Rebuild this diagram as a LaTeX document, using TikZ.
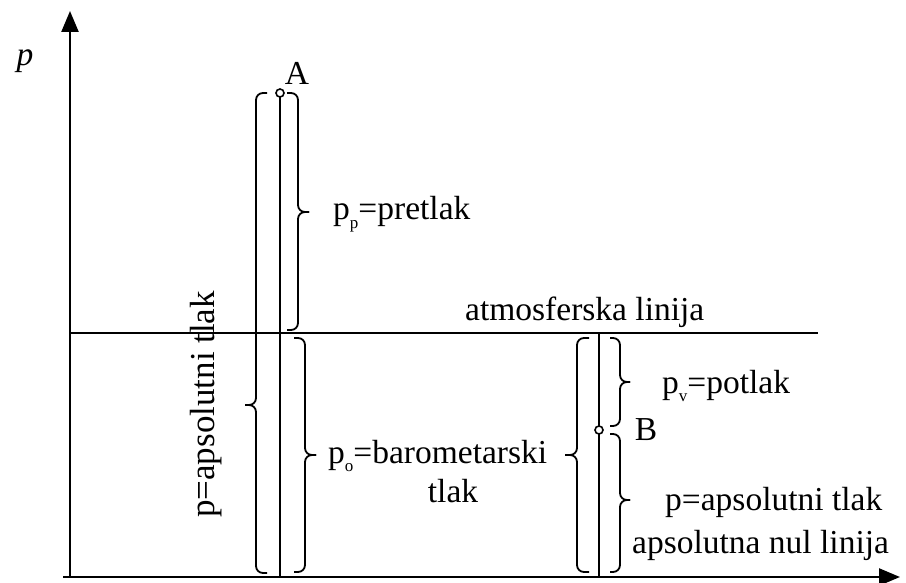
\documentclass[tikz,border=0pt]{standalone}
\usepackage{fontspec}
\setmainfont{Liberation Serif}
\usetikzlibrary{arrows.meta}
\newcommand{\mysub}[1]{\raisebox{-0.25em}{\fontsize{17}{17}\selectfont #1}}
\newcommand{\mybrace}[5]{%
  \draw[bracestyle] ({#1-(#5)},#2) -- (#1,#2) -- (#1,#3) -- ({#1+(#5)},#3);
  \draw[bracestyle] ({#1+(#5)},#3) -- (#1,#3) -- (#1,#4) -- ({#1-(#5)},#4);
}
\tikzset{
  axis/.style={line width=2.4pt, -{Triangle[length=21pt,width=17pt]}},
  vline/.style={line width=2.2pt},
  hline/.style={line width=1.5pt},
  bracestyle/.style={line width=1.8pt, rounded corners=7pt},
  dot/.style={circle, draw, fill=white, inner sep=0pt, minimum size=8pt, line width=1.6pt},
  lbl/.style={font=\fontsize{33.5}{36}\selectfont, inner sep=0pt},
}
\begin{document}
\begin{tikzpicture}[x=1pt,y=-1pt]
\useasboundingbox (0,0) rectangle (906,583);
% axes
\coordinate (O) at (70,577);
\coordinate (Ytop) at (70,11);
\coordinate (Xend) at (900,577);
\draw[axis] (O) -- (Ytop);
\draw[axis] (63,577) -- (Xend);
\node[lbl, font=\fontsize{33.5}{36}\selectfont\itshape] (p) at (25,61) {p};
% atmospheric line
\coordinate (L1) at (70,333);
\coordinate (L2) at (818,333);
\draw[hline] (L1) -- (L2);
\node[lbl, anchor=base west] (atm) at (465,320) {atmosferska linija};
% point A
\coordinate (A0) at (280,577);
\draw[vline] (280,93) -- (A0);
\node[dot] (A) at (280,93) {};
\node[lbl] (Alab) at (297,73) {A};
\mybrace{256}{93}{405}{573}{-11}
\mybrace{298}{93}{212}{330}{11}
\mybrace{305}{338}{455}{572}{11}
\node[lbl, font=\fontsize{35}{38}\selectfont, anchor=base west, rotate=90] (pabsA) at (214,518) {p=apsolutni tlak};
\node[lbl, anchor=base west] (pp) at (333,220) {p\mysub{p}=pretlak};
\node[lbl, anchor=base west] (p0) at (328,463) {p\mysub{o}=barometarski};
\node[lbl, anchor=base] (tlak) at (453,502) {tlak};
% point B
\coordinate (B0) at (599,577);
\coordinate (B1) at (599,333);
\draw[vline] (B1) -- (B0);
\node[dot] (B) at (599,430) {};
\node[lbl] (Blab) at (646,430) {B};
\mybrace{577}{338}{455}{572}{-12}
\mybrace{620}{338}{382}{426}{10}
\mybrace{620}{434}{500}{572}{10}
\node[lbl, anchor=base west] (pv) at (662,393) {p\mysub{v}=potlak};
\node[lbl, anchor=base west] (pabsB) at (665,510) {p=apsolutni tlak};
\node[lbl, anchor=base west] (nul) at (632,553) {apsolutna nul linija};
\end{tikzpicture}
\end{document}
